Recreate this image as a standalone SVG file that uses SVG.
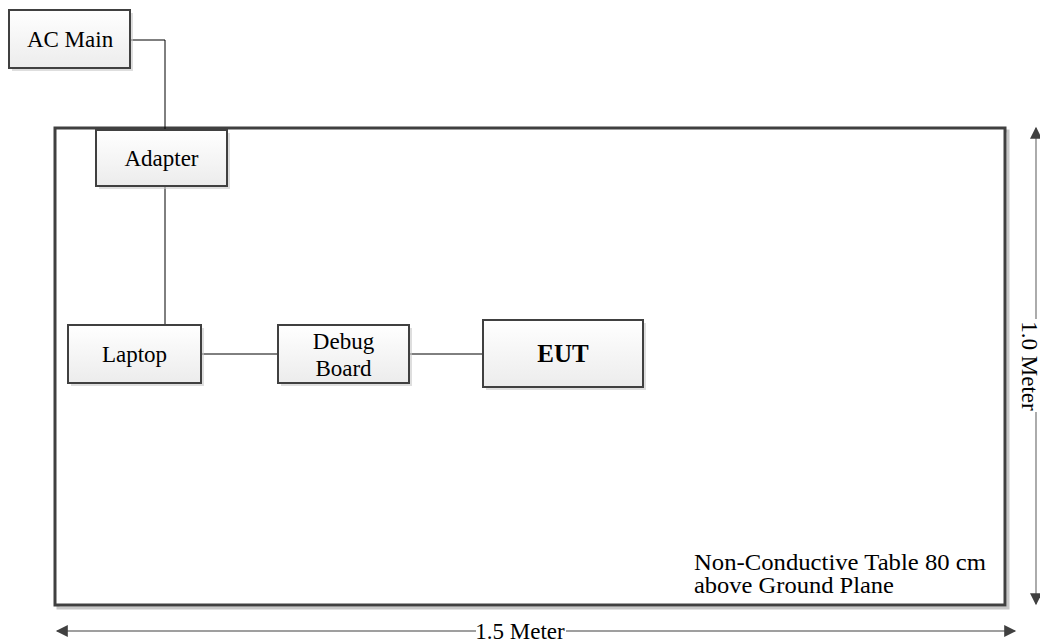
<svg xmlns="http://www.w3.org/2000/svg" width="1040" height="644" viewBox="0 0 1040 644">
<style>
.box{fill:url(#g);stroke:#404040;stroke-width:2}
.sh{fill:#c8c8c8;opacity:0.6}
.t{font-family:"Liberation Serif","Times New Roman",serif;font-size:23px;fill:#000;text-anchor:middle}
.ts{font-family:"Liberation Serif","Times New Roman",serif;font-size:23px;fill:#000;text-anchor:start}
.b{font-size:25px;font-weight:bold}
.w{stroke:#000;stroke-width:1;fill:none}
.dim{stroke:#7f7f7f;stroke-width:1.3;fill:none}
</style>
<defs>
<linearGradient id="g" x1="0" y1="0" x2="0" y2="1"><stop offset="0" stop-color="#ffffff"/><stop offset="1" stop-color="#ececec"/></linearGradient>
<marker id="ah" viewBox="0 0 10 10" refX="9" refY="5" markerWidth="14" markerHeight="12" markerUnits="userSpaceOnUse" orient="auto-start-reverse"><path d="M0,0 L10,5 L0,10 Z" fill="#404040"/></marker>
</defs>
<g id="table">
<rect x="58" y="131" width="950" height="477" fill="none" stroke="#c8c8c8" stroke-width="3"/>
<rect x="55" y="128" width="950" height="477" fill="#fff" stroke="#404040" stroke-width="3"/>
<text class="ts" x="694" y="570" textLength="292" lengthAdjust="spacingAndGlyphs">Non-Conductive Table 80 cm</text>
<text class="ts" x="694" y="593" textLength="200" lengthAdjust="spacingAndGlyphs">above Ground Plane</text>
</g>
<g id="connectors">
<polyline class="w" points="130,40 165,40 165,130"/>
<line class="w" x1="165" y1="186" x2="165" y2="325"/>
<line class="w" x1="201" y1="354" x2="278" y2="354"/>
<line class="w" x1="409" y1="354" x2="483" y2="354"/>
</g>
<g id="ac-main">
<rect class="sh" x="12" y="13" width="121" height="58"/>
<rect class="box" x="9" y="10" width="121" height="58"/>
<text class="t" x="70" y="47">AC Main</text>
</g>
<g id="adapter">
<rect class="sh" x="99" y="133" width="131" height="56"/>
<rect class="box" x="96" y="130" width="131" height="56"/>
<text class="t" x="161.5" y="166">Adapter</text>
</g>
<g id="laptop">
<rect class="sh" x="71" y="328" width="133" height="58"/>
<rect class="box" x="68" y="325" width="133" height="58"/>
<text class="t" x="134.5" y="362">Laptop</text>
</g>
<g id="debug-board">
<rect class="sh" x="281" y="328" width="131" height="58"/>
<rect class="box" x="278" y="325" width="131" height="58"/>
<text class="t" x="343.5" y="349">Debug</text>
<text class="t" x="343.5" y="376">Board</text>
</g>
<g id="eut">
<rect class="sh" x="486" y="323" width="160" height="67"/>
<rect class="box" x="483" y="320" width="160" height="67"/>
<text class="t b" x="563" y="362">EUT</text>
</g>
<g id="dimensions">
<line class="dim" x1="57" y1="631" x2="476" y2="631" marker-start="url(#ah)"/>
<line class="dim" x1="566" y1="631" x2="1015" y2="631" marker-end="url(#ah)"/>
<text class="t" x="520" y="639">1.5 Meter</text>
<line class="dim" x1="1036" y1="128" x2="1036" y2="319" marker-start="url(#ah)"/>
<line class="dim" x1="1036" y1="412" x2="1036" y2="604" marker-end="url(#ah)"/>
<text class="t" transform="translate(1022,366) rotate(90)" x="0" y="0">1.0 Meter</text>
</g>
</svg>
